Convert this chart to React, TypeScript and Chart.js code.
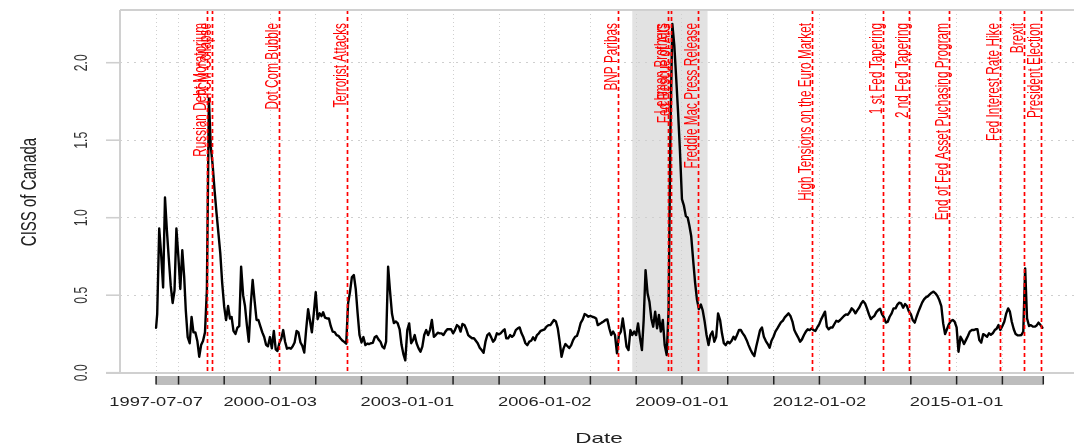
import { useEffect, useRef } from "react";
import { Chart, registerables } from "chart.js";

Chart.register(...registerables);

// CISS of Canada, read on the 1st and 16th of every month
const ciss1997 = [0.29, 0.38, 0.93, 0.77, 0.55, 1.13, 0.92, 0.74, 0.56, 0.45, 0.53, 0.93]; // from July
const ciss1998 = [0.745, 0.54, 0.79, 0.62, 0.4, 0.23, 0.19, 0.36, 0.26, 0.26, 0.205, 0.103, 0.178, 0.205, 0.26, 0.533, 1.77, 1.46, 1.34, 1.18, 1.03, 0.9, 0.77, 0.58];
const ciss1999 = [0.426, 0.34, 0.43, 0.35, 0.36, 0.27, 0.25, 0.29, 0.3, 0.684, 0.5, 0.43, 0.307, 0.2, 0.44, 0.598, 0.46, 0.34, 0.34, 0.3, 0.26, 0.23, 0.18, 0.17];
const ciss2000 = [0.23, 0.157, 0.27, 0.15, 0.14, 0.19, 0.22, 0.275, 0.2, 0.155, 0.16, 0.155, 0.17, 0.195, 0.27, 0.26, 0.195, 0.173, 0.13, 0.275, 0.41, 0.335, 0.26, 0.38];
const ciss2001 = [0.52, 0.345, 0.383, 0.365, 0.39, 0.355, 0.35, 0.35, 0.3, 0.265, 0.262, 0.243, 0.238, 0.222, 0.208, 0.199, 0.187, 0.447, 0.52, 0.615, 0.63, 0.54, 0.383, 0.243];
const ciss2002 = [0.195, 0.23, 0.178, 0.188, 0.185, 0.19, 0.192, 0.228, 0.236, 0.215, 0.2, 0.168, 0.157, 0.2, 0.684, 0.53, 0.38, 0.32, 0.33, 0.32, 0.28, 0.18, 0.12, 0.08];
const ciss2003 = [0.275, 0.318, 0.19, 0.21, 0.243, 0.19, 0.157, 0.135, 0.168, 0.243, 0.275, 0.243, 0.275, 0.34, 0.232, 0.243, 0.258, 0.254, 0.254, 0.243, 0.265, 0.28, 0.28, 0.28];
const ciss2004 = [0.254, 0.275, 0.307, 0.297, 0.265, 0.314, 0.307, 0.28, 0.243, 0.232, 0.222, 0.222, 0.206, 0.19, 0.161, 0.146, 0.129, 0.2, 0.243, 0.254, 0.228, 0.2, 0.215, 0.254];
const ciss2005 = [0.247, 0.254, 0.269, 0.28, 0.222, 0.222, 0.243, 0.232, 0.243, 0.275, 0.286, 0.292, 0.254, 0.228, 0.19, 0.178, 0.2, 0.206, 0.228, 0.21, 0.243, 0.254, 0.27, 0.275];
const ciss2006 = [0.28, 0.297, 0.307, 0.307, 0.322, 0.34, 0.33, 0.286, 0.2, 0.103, 0.157, 0.185, 0.172, 0.159, 0.178, 0.21, 0.232, 0.237, 0.275, 0.322, 0.344, 0.378, 0.372, 0.361];
const ciss2007 = [0.366, 0.361, 0.357, 0.35, 0.307, 0.314, 0.323, 0.33, 0.34, 0.344, 0.286, 0.243, 0.265, 0.243, 0.125, 0.243, 0.265, 0.35, 0.265, 0.168, 0.146, 0.275, 0.243, 0.265];
const ciss2008 = [0.243, 0.318, 0.222, 0.146, 0.34, 0.662, 0.512, 0.458, 0.35, 0.297, 0.394, 0.286, 0.372, 0.265, 0.34, 0.178, 0.114, 0.4, 1.566, 2.25, 2.11, 1.9, 1.68, 1.43];
const ciss2009 = [1.12, 1.08, 1.01, 1.0, 0.95, 0.88, 0.72, 0.58, 0.47, 0.41, 0.44, 0.4, 0.33, 0.243, 0.178, 0.243, 0.265, 0.2, 0.232, 0.383, 0.34, 0.254, 0.19, 0.178];
const ciss2010 = [0.2, 0.19, 0.206, 0.232, 0.215, 0.243, 0.275, 0.275, 0.254, 0.237, 0.21, 0.178, 0.15, 0.125, 0.108, 0.168, 0.222, 0.275, 0.292, 0.232, 0.204, 0.185, 0.161, 0.206];
const ciss2011 = [0.232, 0.265, 0.286, 0.307, 0.325, 0.335, 0.357, 0.37, 0.383, 0.366, 0.33, 0.275, 0.25, 0.228, 0.2, 0.215, 0.243, 0.265, 0.28, 0.275, 0.286, 0.275, 0.269, 0.292];
const ciss2012 = [0.314, 0.344, 0.37, 0.394, 0.297, 0.28, 0.292, 0.292, 0.314, 0.335, 0.329, 0.34, 0.353, 0.366, 0.376, 0.374, 0.391, 0.415, 0.404, 0.383, 0.404, 0.421, 0.447, 0.462];
const ciss2013 = [0.447, 0.415, 0.376, 0.346, 0.357, 0.366, 0.391, 0.404, 0.413, 0.378, 0.357, 0.323, 0.329, 0.361, 0.383, 0.415, 0.415, 0.439, 0.452, 0.447, 0.419, 0.443, 0.43, 0.396];
const ciss2014 = [0.378, 0.34, 0.323, 0.361, 0.391, 0.421, 0.452, 0.473, 0.486, 0.492, 0.505, 0.516, 0.523, 0.512, 0.495, 0.469, 0.43, 0.318, 0.249, 0.28, 0.314, 0.333, 0.34, 0.329];
const ciss2015 = [0.292, 0.135, 0.232, 0.21, 0.185, 0.21, 0.237, 0.265, 0.275, 0.275, 0.28, 0.28, 0.21, 0.194, 0.249, 0.241, 0.232, 0.254, 0.245, 0.254, 0.275, 0.284, 0.307, 0.275];
const ciss2016 = [0.301, 0.329, 0.383, 0.415, 0.394, 0.329, 0.28, 0.249, 0.241, 0.241, 0.243, 0.265, 0.673, 0.351, 0.301, 0.307, 0.297, 0.297, 0.305, 0.323, 0.307, 0.29];

// [year, first month index, readings]
const cissByYear: [number, number, number[]][] = [
  [1997, 6, ciss1997], [1998, 0, ciss1998], [1999, 0, ciss1999], [2000, 0, ciss2000],
  [2001, 0, ciss2001], [2002, 0, ciss2002], [2003, 0, ciss2003], [2004, 0, ciss2004],
  [2005, 0, ciss2005], [2006, 0, ciss2006], [2007, 0, ciss2007], [2008, 0, ciss2008],
  [2009, 0, ciss2009], [2010, 0, ciss2010], [2011, 0, ciss2011], [2012, 0, ciss2012],
  [2013, 0, ciss2013], [2014, 0, ciss2014], [2015, 0, ciss2015], [2016, 0, ciss2016],
];

const seriesStart = "1997-07-07";
const seriesEnd = "2016-11-23";

// Axis ticks (first trading day of each year) and the dates printed under them
const axisTickDates = [
  "1997-07-07", "1998-01-02", "1999-01-01", "2000-01-03", "2001-01-01", "2002-01-01",
  "2003-01-01", "2004-01-01", "2005-01-03", "2006-01-02", "2007-01-01", "2008-01-01",
  "2009-01-01", "2010-01-01", "2011-01-03", "2012-01-02", "2013-01-01", "2014-01-01",
  "2015-01-01", "2016-01-01",
];
const axisLabelDates = ["1997-07-07", "2000-01-03", "2003-01-01", "2006-01-02", "2009-01-01", "2012-01-02", "2015-01-01"];
const yTickValues = [0, 0.5, 1, 1.5, 2];
const yTickLabels = ["0.0", "0.5", "1.0", "1.5", "2.0"];

// Shaded recession period
const recessionStart = "2007-12-01";
const recessionEnd = "2009-07-24";

// Event markers
const eventDates = [
  "1998-08-17", "1998-09-23", "2000-03-10", "2001-09-11", "2007-08-09", "2008-09-15",
  "2008-10-06", "2009-05-07", "2011-11-07", "2013-05-22", "2013-12-18", "2014-10-29",
  "2015-12-16", "2016-06-23", "2016-11-08",
];
const eventLabels = [
  "Russian Debt Moratorium", "LTCM Collapse", "Dot Com Bubble", "Terrorist Attacks", "BNP Paribas",
  "Lehman Brothers", "Fed Rescue of AIG", "Freddie Mac Press Release", "High Tensions on the Euro Market",
  "1 st Fed Tapering", "2 nd Fed Tapering", "End of Fed Asset Puchasing Program",
  "Fed Interest Rate Hike", "Brexit", "President Election",
];

const xAxisFrom = "1996-09-22";
const xAxisTo = "2017-07-26";
const yAxisFrom = -0.0084;
const yAxisTo = 2.34;

const FONT = '"Liberation Sans", Arial, Helvetica, sans-serif';
const SX = 1.5; // horizontal stretch applied to every piece of text

function toYear(iso: string): number {
  const [y, m, d] = iso.split("-").map(Number);
  const s = Date.UTC(y, 0, 1);
  const e = Date.UTC(y + 1, 0, 1);
  return y + (Date.UTC(y, m - 1, d) - s) / (e - s);
}

function buildPoints() {
  const pts: { x: number; y: number }[] = [];
  for (const [year, firstMonth, vals] of cissByYear) {
    vals.forEach((v, i) => {
      const month = firstMonth + Math.floor(i / 2);
      const day = i % 2 === 0 ? 1 : 16;
      const iso = `${year}-${String(month + 1).padStart(2, "0")}-${String(day).padStart(2, "0")}`;
      pts.push({ x: toYear(iso), y: v });
    });
  }
  pts[0].x = toYear(seriesStart);
  return pts;
}

type TextOpts = { size: number; color: string; align: CanvasTextAlign; baseline?: CanvasTextBaseline; rotate?: boolean };

function drawText(ctx: CanvasRenderingContext2D, text: string, x: number, y: number, o: TextOpts) {
  ctx.save();
  ctx.translate(x, y);
  ctx.scale(SX, 1);
  if (o.rotate) ctx.rotate(-Math.PI / 2);
  ctx.font = `${o.size}px ${FONT}`;
  ctx.fillStyle = o.color;
  ctx.textAlign = o.align;
  ctx.textBaseline = o.baseline ?? "alphabetic";
  ctx.fillText(text, 0, 0);
  ctx.restore();
}

const decorPlugin = {
  id: "cissDecor",
  beforeDraw(chart: any) {
    const { ctx, chartArea: a, scales } = chart;
    const x = scales.x;
    const x0 = x.getPixelForValue(toYear(recessionStart));
    const x1 = x.getPixelForValue(toYear(recessionEnd));
    ctx.save();
    ctx.fillStyle = "#e2e2e2";
    ctx.fillRect(x0, a.top, x1 - x0, a.bottom - a.top);
    ctx.restore();
  },
  afterDatasetsDraw(chart: any) {
    const { ctx, chartArea: a, scales } = chart;
    const x = scales.x;
    ctx.save();
    eventDates.forEach((d, i) => {
      const px = Math.round(x.getPixelForValue(toYear(d))) + 0.5;
      ctx.strokeStyle = "#ff0000";
      ctx.lineWidth = 1.7;
      ctx.setLineDash([4, 3]);
      ctx.beginPath();
      ctx.moveTo(px, a.top);
      ctx.lineTo(px, a.bottom);
      ctx.stroke();
      drawText(ctx, eventLabels[i], px - 1.8, a.top + 13, { size: 11.8, color: "#ff0000", align: "right", rotate: true });
    });
    ctx.restore();
  },
  afterDraw(chart: any) {
    const { ctx, chartArea: a, scales } = chart;
    const x = scales.x;
    const y = scales.y;
    ctx.save();
    // plot frame
    ctx.strokeStyle = "#d0d0d0";
    ctx.lineWidth = 2;
    ctx.beginPath();
    ctx.moveTo(a.left, a.top);
    ctx.lineTo(a.right, a.top);
    ctx.moveTo(a.left, a.top);
    ctx.lineTo(a.left, a.bottom);
    ctx.moveTo(a.left - 14, a.bottom - 1);
    ctx.lineTo(a.right, a.bottom - 1);
    ctx.stroke();
    // y ticks and labels
    yTickValues.forEach((v, i) => {
      const py = y.getPixelForValue(v);
      ctx.strokeStyle = "#cfcfcf";
      ctx.lineWidth = 1.6;
      ctx.beginPath();
      ctx.moveTo(a.left - 14, py);
      ctx.lineTo(a.left, py);
      ctx.stroke();
      drawText(ctx, yTickLabels[i], 87, py, { size: 12.2, color: "#333", align: "center", rotate: true });
    });
    // time ribbon under the plot
    const rs = x.getPixelForValue(toYear(seriesStart));
    const re = x.getPixelForValue(toYear(seriesEnd));
    const rTop = a.bottom + 2;
    ctx.fillStyle = "#bdbdbd";
    ctx.fillRect(rs, rTop, re - rs, 9);
    ctx.strokeStyle = "#222";
    ctx.lineWidth = 1.5;
    [...axisTickDates, seriesEnd].forEach((d) => {
      const px = x.getPixelForValue(toYear(d));
      ctx.beginPath();
      ctx.moveTo(px, rTop);
      ctx.lineTo(px, rTop + 8.5);
      ctx.stroke();
    });
    axisLabelDates.forEach((d) => {
      drawText(ctx, d, x.getPixelForValue(toYear(d)), 406, { size: 12.2, color: "#222", align: "center" });
    });
    // axis titles
    drawText(ctx, "Date", 599, 443, { size: 15, color: "#222", align: "center" });
    drawText(ctx, "CISS of Canada", 36, (a.top + a.bottom) / 2, { size: 15, color: "#222", align: "center", rotate: true });
    ctx.restore();
  },
};

export default function App() {
  const canvasRef = useRef<HTMLCanvasElement | null>(null);

  useEffect(() => {
    const canvas = canvasRef.current;
    if (!canvas) return;
    const xTicks = axisTickDates.map(toYear);
    const chart = new Chart(canvas, {
      type: "line",
      data: {
        datasets: [
          {
            data: buildPoints(),
            borderColor: "#000",
            borderWidth: 2.4,
            pointRadius: 0,
            tension: 0,
            fill: false,
            borderJoinStyle: "round",
            borderCapStyle: "round",
          },
        ],
      },
      options: {
        animation: false,
        responsive: false,
        devicePixelRatio: 1,
        layout: { padding: { left: 120, top: 10, right: 0, bottom: 74 } },
        plugins: { legend: { display: false }, tooltip: { enabled: false } },
        scales: {
          x: {
            type: "linear",
            min: toYear(xAxisFrom),
            max: toYear(xAxisTo),
            ticks: { display: false },
            grid: { color: "#cfcfcf", lineWidth: 1, drawTicks: false, tickLength: 0 },
            border: { display: false, dash: [1, 3] },
            afterBuildTicks: (s: any) => {
              s.ticks = xTicks.map((v) => ({ value: v }));
            },
          },
          y: {
            type: "linear",
            min: yAxisFrom,
            max: yAxisTo,
            ticks: { display: false },
            grid: { color: "#cfcfcf", lineWidth: 1, drawTicks: false, tickLength: 0 },
            border: { display: false, dash: [2, 5] },
            afterBuildTicks: (s: any) => {
              s.ticks = yTickValues.map((v) => ({ value: v }));
            },
          },
        },
      },
      plugins: [decorPlugin],
    } as any);
    return () => chart.destroy();
  }, []);

  return (
    <div style={{ position: "fixed", left: 0, top: 0, width: 1074, height: 448, background: "#fff" }}>
      <canvas ref={canvasRef} width={1074} height={448} style={{ display: "block" }} />
    </div>
  );
}
